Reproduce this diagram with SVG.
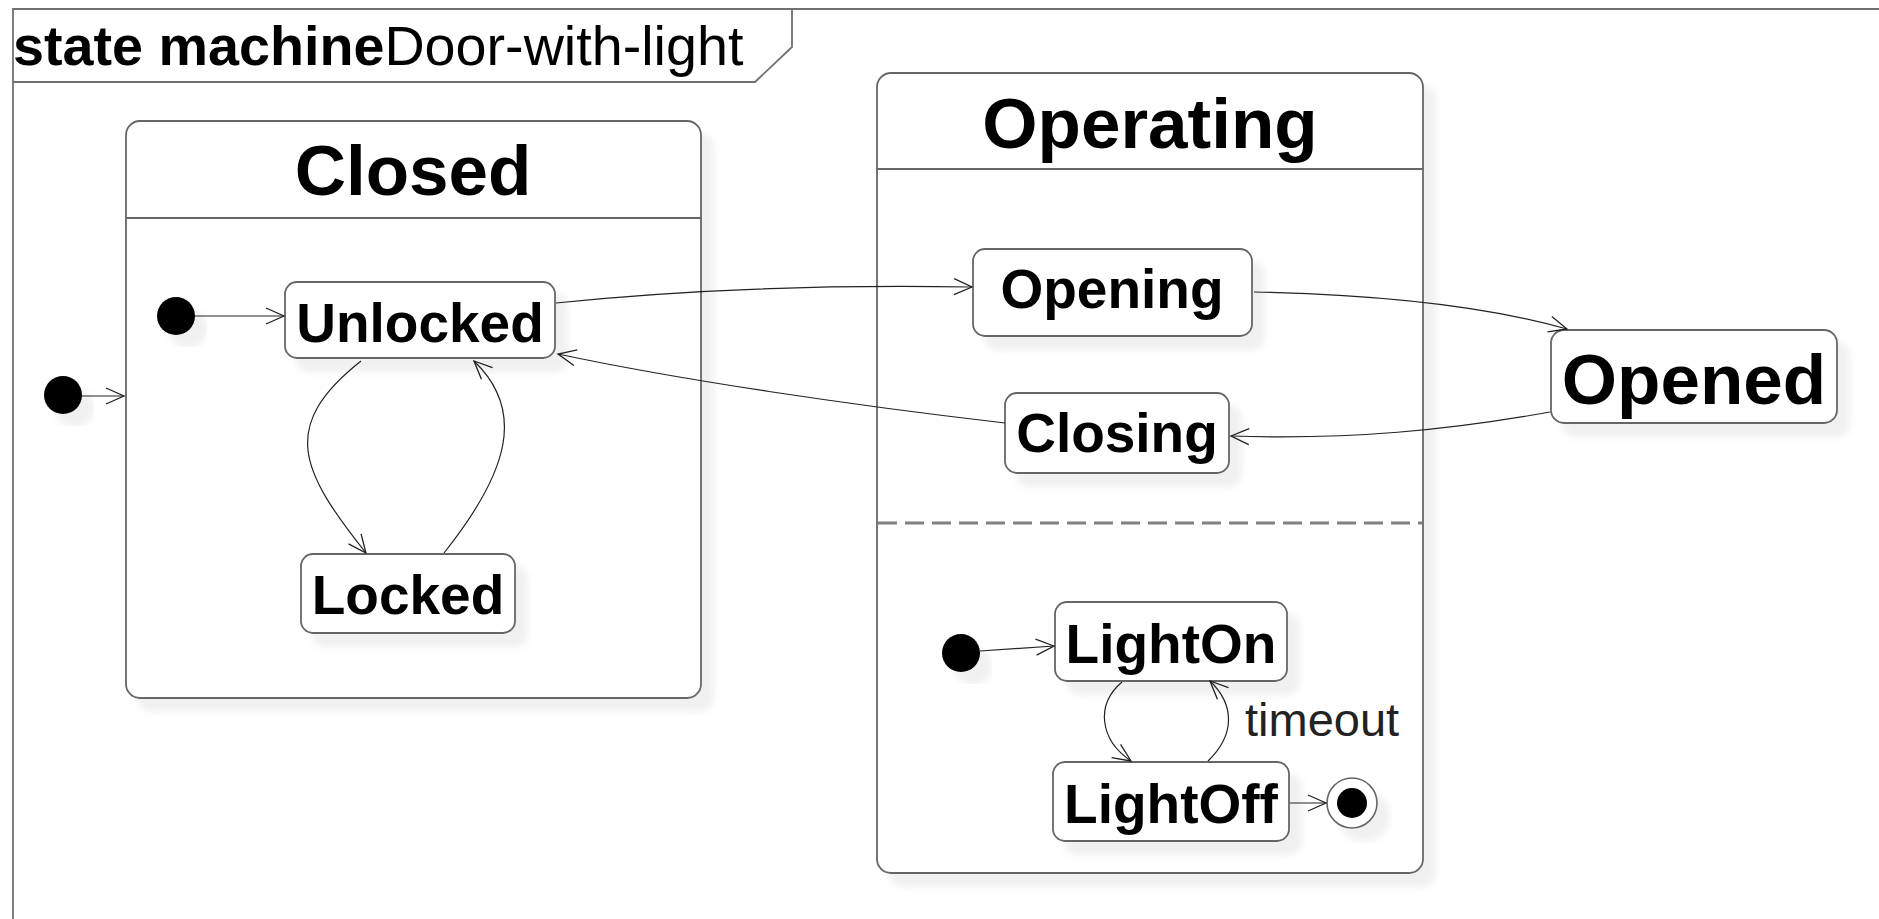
<svg xmlns="http://www.w3.org/2000/svg" width="1879" height="919" viewBox="0 0 1879 919">
  <style>
    .box { fill: #ffffff; stroke: #666666; stroke-width: 1.8; }
    .sep { stroke: #666666; stroke-width: 1.8; fill: none; }
    .dash { stroke: #808080; stroke-width: 3; stroke-dasharray: 19 8; fill: none; }
    .frame { stroke: #707070; stroke-width: 1.8; fill: none; }
    .edge { stroke: #222222; stroke-width: 1.2; fill: none; marker-end: url(#arrow); }
    .name { font-family: "Liberation Sans", Arial, sans-serif; font-weight: bold; fill: #000000; text-anchor: middle; }
    .big { font-size: 71px; }
    .mid { font-size: 55px; }
    .lbl { font-family: "Liberation Sans", Arial, sans-serif; font-size: 47px; fill: #222222; }
    .title { font-family: "Liberation Sans", Arial, sans-serif; font-size: 55.7px; fill: #000000; }
  </style>
  <defs>
    <filter id="shadow" x="-20%" y="-20%" width="150%" height="150%">
      <feDropShadow dx="12" dy="13" stdDeviation="3.5" flood-color="#000000" flood-opacity="0.06"/>
    </filter>
    <marker id="arrow" markerUnits="userSpaceOnUse" markerWidth="22" markerHeight="20" refX="19" refY="9" orient="auto">
      <path d="M1,1 L19,9 L1,17" fill="none" stroke="#222222" stroke-width="1.3"/>
    </marker>
  </defs>

  <rect width="1879" height="919" fill="#ffffff"/>

  <!-- diagram frame with its name tab -->
  <g id="frame">
    <path class="frame" d="M13,919 L13,9 L1879,9"/>
    <path class="frame" d="M13,82 L755,82 L792,47 L792,9"/>
    <text class="title" x="13" y="65"><tspan font-weight="bold">state machine</tspan>Door-with-light</text>
  </g>

  <!-- composite state Closed -->
  <g id="Closed">
    <rect class="box" x="126" y="121" width="575" height="577" rx="14" filter="url(#shadow)"/>
    <line class="sep" x1="126" y1="218" x2="701" y2="218"/>
    <text class="name big" x="413" y="195">Closed</text>
  </g>

  <!-- composite state Operating with two regions -->
  <g id="Operating">
    <rect class="box" x="877" y="73" width="546" height="800" rx="14" filter="url(#shadow)"/>
    <line class="sep" x1="877" y1="169" x2="1423" y2="169"/>
    <line class="dash" x1="878" y1="523" x2="1422" y2="523"/>
    <text class="name big" x="1150" y="148">Operating</text>
  </g>

  <g id="init-top">
    <circle cx="63" cy="395" r="19" fill="#000000" filter="url(#shadow)"/>
  </g>
  <g id="init-closed">
    <circle cx="176" cy="316" r="19" fill="#000000" filter="url(#shadow)"/>
  </g>
  <g id="init-light">
    <circle cx="961" cy="653" r="19" fill="#000000" filter="url(#shadow)"/>
  </g>
  <g id="final-light">
    <circle cx="1352" cy="803" r="25" fill="#ffffff" stroke="#666666" stroke-width="1.6" filter="url(#shadow)"/>
    <circle cx="1352" cy="803" r="15" fill="#000000"/>
  </g>

  <g id="Unlocked">
    <rect class="box" x="285" y="282" width="270" height="76" rx="12" filter="url(#shadow)"/>
    <text class="name mid" x="420" y="342">Unlocked</text>
  </g>
  <g id="Locked">
    <rect class="box" x="301" y="554" width="214" height="79" rx="12" filter="url(#shadow)"/>
    <text class="name mid" x="408" y="614">Locked</text>
  </g>
  <g id="Opening">
    <rect class="box" x="973" y="249" width="279" height="87" rx="12" filter="url(#shadow)"/>
    <text class="name mid" x="1112" y="308">Opening</text>
  </g>
  <g id="Closing">
    <rect class="box" x="1005" y="393" width="224" height="80" rx="12" filter="url(#shadow)"/>
    <text class="name mid" x="1117" y="452">Closing</text>
  </g>
  <g id="Opened">
    <rect class="box" x="1551" y="330" width="286" height="93" rx="13" filter="url(#shadow)"/>
    <text class="name big" x="1694" y="404">Opened</text>
  </g>
  <g id="LightOn">
    <rect class="box" x="1055" y="602" width="232" height="79" rx="12" filter="url(#shadow)"/>
    <text class="name mid" x="1171" y="663">LightOn</text>
  </g>
  <g id="LightOff">
    <rect class="box" x="1053" y="762" width="236" height="79" rx="12" filter="url(#shadow)"/>
    <text class="name mid" x="1171" y="823">LightOff</text>
  </g>

  <!-- transitions -->
  <g id="connectors">
    <path class="edge" d="M82,396 L124,396"/>
    <path class="edge" d="M195,316 L284,316"/>
    <path class="edge" d="M556,303 C700,288 850,285 972,287"/>
    <path class="edge" d="M1254,292 C1400,295 1500,310 1567,329"/>
    <path class="edge" d="M1550,412 C1450,430 1350,440 1231,436"/>
    <path class="edge" d="M1005,423 C850,405 680,380 558,354"/>
    <path class="edge" d="M361,361 C279,426 300,470 366,553"/>
    <path class="edge" d="M444,553 C510,470 525,410 474,361"/>
    <path class="edge" d="M980,651 L1054,646"/>
    <path class="edge" d="M1122,682 C1095,705 1100,740 1131,761"/>
    <path class="edge" d="M1208,761 C1235,735 1235,705 1210,681"/>
    <path class="edge" d="M1290,803 L1326,803"/>
    <text class="lbl" x="1245" y="736">timeout</text>
  </g>
</svg>
